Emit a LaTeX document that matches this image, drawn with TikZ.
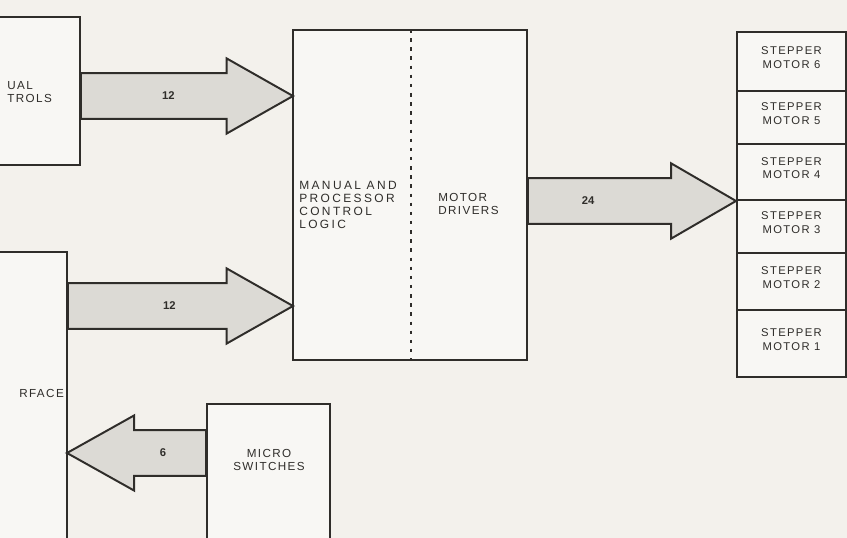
\documentclass[tikz,border=0pt]{standalone}
\usepackage{fontspec}
\setmainfont{Liberation Sans}
\newfontfamily\platefont[LetterSpace=12]{Liberation Sans}
\newfontfamily\widefont[LetterSpace=20]{Liberation Sans}
\usetikzlibrary{fit, calc}

\definecolor{paper}{HTML}{F3F1EC}
\definecolor{ink}{HTML}{2F2D2A}
\definecolor{busgrey}{HTML}{DCDAD5}

% fat bus arrow: name, from, tip, head length, label position, label
\newcommand{\busarrow}[6]{%
  \filldraw[bus] let \p1=(#2), \p2=(#3), \n1={\x2-(#4)} in
    (\x1,{\y2+0.57cm}) -- (\n1,{\y2+0.57cm}) -- (\n1,{\y2+0.94cm}) -- (\x2,\y2)
    -- (\n1,{\y2-0.94cm}) -- (\n1,{\y2-0.57cm}) -- (\x1,{\y2-0.57cm}) -- cycle
    ({\x1+#5*(\n1-\x1)},\y2) node[buslabel] (#1) {#6};
}

\begin{document}
\begin{tikzpicture}[
  x=0.025cm, y=-0.025cm,
  box/.style={rectangle, draw=ink, line width=1.4pt, fill=paper!60!white, inner sep=0pt},
  motor/.style={box, align=center, text=ink, font=\platefont\fontsize{8}{9.5}\selectfont},
  txt/.style={align=left, font=\platefont\fontsize{8.3}{9.4}\selectfont, text=ink, inner sep=0pt},
  widetxt/.style={txt, font=\widefont\fontsize{8.5}{9.4}\selectfont},
  bus/.style={draw=ink, fill=busgrey, line width=1.4pt, line join=miter},
  buslabel/.style={font=\bfseries\fontsize{8}{9}\selectfont, text=ink, inner sep=0pt},
  divider/.style={draw=ink, line width=0.9pt, dash pattern=on 2.5pt off 4pt}
]
\useasboundingbox[fill=paper] (0,0) rectangle (847,538);
\clip (0,0) rectangle (847,538);

% boxes
\node[box, fit={(-20,17) (80,165)}] (manual) {};
\node[txt, anchor=west] (manualtext) at (7,92) {UAL\\TROLS};
\node[box, fit={(-20,252) (67,560)}] (iface) {};
\node[txt, anchor=west] (ifacetext) at (19,393) {RFACE};
\node[box, fit={(293,30) (527,360)}] (main) {};
\draw[divider] ($(main.north west)!0.504!(main.north east)$) -- ($(main.south west)!0.504!(main.south east)$);
\node[widetxt, anchor=west] (logic) at (299,205) {MANUAL AND\\PROCESSOR\\CONTROL\\LOGIC};
\node[txt, anchor=west] (drivers) at (438,204) {MOTOR\\DRIVERS};
\node[box, fit={(207,404) (330,560)}] (switches) {};
\node[txt, align=center] (switchestext) at (269,460) {MICRO\\SWITCHES};

\foreach \i/\top/\bot in {6/32/91, 5/91/144, 4/144/200, 3/200/253, 2/253/310, 1/310/377}
  \node[motor, fit={(737,\top) (846,\bot)}] (m\i) {STEPPER\\MOTOR \i};

% buses
\coordinate (tip1) at (293,96);
\coordinate (tip2) at (293,306);
\coordinate (tip4) at (67,453);
\busarrow{bus1}{manual.east}{tip1}{1.66cm}{0.6}{12}
\busarrow{bus2}{iface.east}{tip2}{1.66cm}{0.64}{12}
\busarrow{bus3}{main.east}{m4.south west}{1.62cm}{0.42}{24}
\busarrow{bus4}{switches.west}{tip4}{-1.68cm}{0.6}{6}

\end{tikzpicture}
\end{document}
